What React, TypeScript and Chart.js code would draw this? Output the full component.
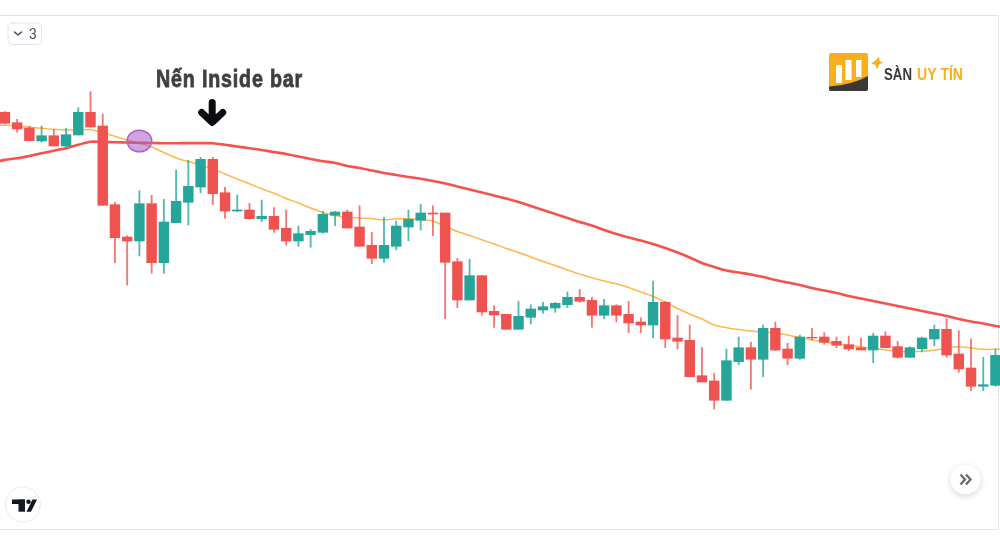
import React, { useEffect, useRef } from "react";
import { Chart, registerables } from "chart.js";

Chart.register(...registerables);

// Price units of the hidden axis. Candle 0 is the first one on the left.
const opens = [432.7,422.3,417,404,409.3,399,410,432.7,419,340.3,308,304,341.3,282.3,322.3,342.7,358,385.7,352.3,334,335,326.3,328.7,316.7,304,310.3,312.7,329.7,333,318,299.7,286.7,298.7,318,324.7,332,332,283.3,245,269.3,233.7,230.7,215.7,227.7,235,237,240.3,247.7,244.7,229.7,239.3,230.7,223,220,242.7,207,204.7,169.3,164,144.7,183.3,197.3,185.7,216.7,196,186.7,207.7,208,203.7,200.3,197.3,195,209,198.3,187.7,196.3,206,215.7,191,177,158.7,159.7];
const closes = [421.7,416,404.3,409.3,399,410.3,432.7,418,339.7,307.3,304,341.3,282.3,323,343.7,358.7,385.7,351.3,334,335,326.3,328.7,315.7,304,311.3,313.7,330.7,333,317,298.7,286.7,299.7,319,325.7,332,331,282.7,245,269.3,233,230,215.7,228.7,236,238.3,241.7,247.7,243.7,229.7,239.3,229.7,222,220,242.7,206,203.7,168.3,163,144.7,184.3,197.3,185.7,216.7,195,186.7,208,207,202.7,199.7,196,195,209,197.3,187.7,197.3,207,215.7,190,176,158.7,160.3,189.7];
const highs = [433.5,425.7,419,419,415.7,416.7,437.3,453.3,431,342.7,309.3,354.3,349.7,345.7,375,384.7,387.7,387.7,357.7,350,341.7,345,337.3,335,319,315.7,333.7,333.7,335,339.3,312.7,327.7,324,335,340.7,339.3,332,286.7,285.7,269.3,239.3,230.7,243.7,240.3,242.7,242.7,253,255.7,247.7,245.7,240.3,243.7,227.3,264,243.7,229.7,220,197.3,171.7,196,208,202.7,220,223,201.7,210,216.7,212.3,208,209,207,211.7,213.3,203.7,198.3,208,220,226.3,214.3,206,187.7,196];
const lows = [421,412.7,404,403,399,398.3,410,418,339.7,282.3,260,289,271.7,271.7,322.3,320,352.3,340.3,326.7,333.3,325.7,323.3,312.7,299.7,298.7,297.7,311.7,319.3,317,298.7,281.3,282.7,295,304.3,315,309.3,226.3,237.3,245,229.7,217.7,215.7,215.7,221,231.7,232.7,237.3,242.7,217.7,226.3,223,212.3,212.3,207,197.3,196,168.3,163,136,144.7,180.3,155.7,168.3,194.3,180.3,185.7,205,200.7,197.3,194.3,195,182.3,197.3,186.7,187.7,193,199.3,187.7,172.7,154.3,154.3,158.7];

// Moving averages, starting one candle before the first and ending one after the last.
const slowAverage = [382.5,385.1,386.7,389.1,391.7,394.3,396.7,400.2,403.3,403,402.8,402.5,402.3,402,401.8,401.8,401.9,401.9,401.7,400.2,398.5,396.7,395,393,391,388.5,386,383.8,382,379,377,374.5,372,370,368,366.2,364,361.5,358.5,355.5,352.5,349.5,346.5,343,339,335,331,327,323,319.5,315,311,307.5,304.5,301,297,292.5,287.5,282,278,274.5,272.5,270.5,268,265,262.5,260,257,254.5,252,249,246.5,244,241.5,239,236.5,234,231.5,229,226,223.5,221.5,219,217];
const fastAverage = [420,419.7,419,417.7,416.7,415.7,415,415,415.5,412.5,408.7,405,401.5,398,392.5,387,383.5,380,376,371,366,361.3,356.2,351.7,346.5,342,337,332.5,329.5,327.7,327,326.4,325,326.2,326.3,325.5,324,318.5,313.5,309.5,305.3,301,296.5,292.5,288,283.5,279.5,275,271,267.2,264,261.2,257.5,253,248.7,242.7,236.5,231,226,220,217.3,215.5,214,213,212,210,207.5,205,203,201.2,199.7,198,196.7,195,194,193.3,193.8,194.8,196.7,198.3,197,195.7,195.7,196];

const annotationTitle = "Nến Inside bar";
const legendCount = "3";
const brandDark = "SÀN";
const brandLight = "UY TÍN";
const markedCandle = 11;
const markedPrice = 404;
const arrowCandle = 17;

const UP = "#26a69a";
const DOWN = "#ef5350";

const overlay = {
  id: "overlay",
  beforeDraw(chart: any) {
    const { ctx } = chart;
    ctx.save();
    ctx.fillStyle = "#ffffff";
    ctx.fillRect(0, 0, 1000, 545);
    ctx.strokeStyle = "#e2e2e2";
    ctx.lineWidth = 1;
    ctx.beginPath();
    ctx.moveTo(0, 15.5);
    ctx.lineTo(998.5, 15.5);
    ctx.lineTo(998.5, 529.5);
    ctx.lineTo(0, 529.5);
    ctx.stroke();
    ctx.restore();
  },
  afterDraw(chart: any) {
    const { ctx, scales } = chart;
    const X = scales.x;
    const Y = scales.y;
    ctx.save();

    // marked candle ellipse
    ctx.beginPath();
    ctx.ellipse(X.getPixelForValue(markedCandle), Y.getPixelForValue(markedPrice), 12.3, 10.8, 0, 0, Math.PI * 2);
    ctx.fillStyle = "rgba(168,92,196,0.55)";
    ctx.fill();
    ctx.strokeStyle = "#b062c6";
    ctx.lineWidth = 1.5;
    ctx.stroke();

    // arrow
    const ax = X.getPixelForValue(arrowCandle) - 0.6;
    ctx.strokeStyle = "#0b0b10";
    ctx.lineWidth = 7;
    ctx.lineCap = "round";
    ctx.lineJoin = "round";
    ctx.beginPath();
    ctx.moveTo(ax, 102.5);
    ctx.lineTo(ax, 122);
    ctx.moveTo(ax - 10.5, 112.5);
    ctx.lineTo(ax, 122.5);
    ctx.lineTo(ax + 10.5, 112.5);
    ctx.stroke();

    // annotation title
    ctx.fillStyle = "#413e3e";
    ctx.strokeStyle = "#413e3e";
    ctx.lineWidth = 0.8;
    ctx.lineJoin = "round";
    ctx.font = 'bold 24px "Liberation Sans Narrow", "Liberation Sans"';
    ctx.textBaseline = "alphabetic";
    ctx.textAlign = "left";
    (ctx as any).letterSpacing = "1px";
    ctx.fillText(annotationTitle, 156, 86.5, 147);
    ctx.strokeText(annotationTitle, 156, 86.5, 147);
    (ctx as any).letterSpacing = "0px";

    // legend toggle
    ctx.fillStyle = "#ffffff";
    ctx.strokeStyle = "#e0e3eb";
    ctx.lineWidth = 1;
    ctx.beginPath();
    ctx.roundRect(8, 23, 33.5, 21.5, 4);
    ctx.fill();
    ctx.stroke();
    ctx.strokeStyle = "#4a4e59";
    ctx.lineWidth = 1.6;
    ctx.lineCap = "round";
    ctx.beginPath();
    ctx.moveTo(14.5, 32);
    ctx.lineTo(18, 35);
    ctx.lineTo(21.5, 32);
    ctx.stroke();
    ctx.fillStyle = "#4a4e59";
    ctx.font = '14px "Roboto"';
    ctx.fillText(legendCount, 29, 39);

    // brand logo
    ctx.fillStyle = "#f9ae1c";
    ctx.beginPath();
    ctx.roundRect(829, 53, 39, 38, 2);
    ctx.fill();
    ctx.fillStyle = "#ffffff";
    ctx.fillRect(836, 65, 6, 18);
    ctx.fillRect(845.5, 60, 6, 20);
    ctx.fillRect(856, 60, 5.5, 17);
    ctx.fillStyle = "#3b3838";
    ctx.beginPath();
    ctx.moveTo(829, 86.5);
    ctx.quadraticCurveTo(852, 85, 868, 76);
    ctx.lineTo(868, 89);
    ctx.quadraticCurveTo(868, 91, 866, 91);
    ctx.lineTo(831, 91);
    ctx.quadraticCurveTo(829, 91, 829, 89);
    ctx.closePath();
    ctx.fill();
    ctx.fillStyle = "#f9ae1c";
    ctx.beginPath();
    ctx.moveTo(879, 56.5);
    ctx.lineTo(879.5, 61);
    ctx.lineTo(883, 62.5);
    ctx.lineTo(879, 64.5);
    ctx.lineTo(877, 69.5);
    ctx.lineTo(875.5, 65);
    ctx.lineTo(871, 63.5);
    ctx.lineTo(875.5, 60.5);
    ctx.closePath();
    ctx.fill();
    ctx.font = 'bold 16px "Liberation Sans"';
    ctx.fillStyle = "#3b3838";
    ctx.fillText(brandDark, 884, 79.7, 28);
    ctx.fillStyle = "#f9ae1c";
    ctx.fillText(brandLight, 917, 79.7, 46);

    // TradingView mark
    ctx.fillStyle = "#ffffff";
    ctx.strokeStyle = "#ececec";
    ctx.lineWidth = 1;
    ctx.beginPath();
    ctx.arc(23, 504.5, 17.5, 0, Math.PI * 2);
    ctx.fill();
    ctx.stroke();
    ctx.fillStyle = "#131722";
    ctx.fillRect(12, 499.5, 13, 4.5);
    ctx.fillRect(18.5, 499.5, 6.5, 12.2);
    ctx.beginPath();
    ctx.arc(28.5, 501.8, 2.3, 0, Math.PI * 2);
    ctx.fill();
    ctx.beginPath();
    ctx.moveTo(32.5, 499.5);
    ctx.lineTo(37, 499.5);
    ctx.lineTo(31, 511.7);
    ctx.lineTo(26.5, 511.7);
    ctx.closePath();
    ctx.fill();

    // scroll button
    ctx.save();
    ctx.shadowColor = "rgba(0,0,0,0.16)";
    ctx.shadowBlur = 6;
    ctx.shadowOffsetY = 2;
    ctx.fillStyle = "#ffffff";
    ctx.beginPath();
    ctx.arc(965.5, 479.5, 15, 0, Math.PI * 2);
    ctx.fill();
    ctx.restore();
    ctx.strokeStyle = "#6a6d78";
    ctx.lineWidth = 2.4;
    ctx.lineCap = "butt";
    ctx.lineJoin = "miter";
    ctx.beginPath();
    ctx.moveTo(960.5, 474.5);
    ctx.lineTo(965, 479.5);
    ctx.lineTo(960.5, 484.5);
    ctx.moveTo(966, 474.5);
    ctx.lineTo(970.5, 479.5);
    ctx.lineTo(966, 484.5);
    ctx.stroke();

    ctx.restore();
  },
};

export default function App() {
  const ref = useRef<HTMLCanvasElement | null>(null);

  useEffect(() => {
    if (!ref.current) return;
    const colors = opens.map((o, i) => (closes[i] >= o ? UP : DOWN));
    const chart = new Chart(ref.current, {
      type: "bar",
      data: {
        datasets: [
          {
            type: "bar",
            label: "Body",
            data: opens.map((o, i) => ({ x: i, y: [o, closes[i]] })),
            backgroundColor: colors,
            borderWidth: 0,
            barThickness: 9.8,
            grouped: false,
            order: 1,
          },
          {
            type: "bar",
            label: "Wick",
            data: highs.map((h, i) => ({ x: i, y: [lows[i], h] })),
            backgroundColor: colors.map((c) => c + "c8"),
            borderWidth: 0,
            barThickness: 1.2,
            grouped: false,
            order: 2,
          },
          {
            type: "line",
            label: "MA slow",
            data: slowAverage.map((v, i) => ({ x: i - 1, y: v })),
            borderColor: "#f6524d",
            borderWidth: 2.6,
            pointRadius: 0,
            tension: 0.3,
            order: 3,
          },
          {
            type: "line",
            label: "MA fast",
            data: fastAverage.map((v, i) => ({ x: i - 1, y: v })),
            borderColor: "#ffb74d",
            borderWidth: 1.5,
            pointRadius: 0,
            tension: 0.3,
            order: 4,
          },
        ],
      } as any,
      options: {
        animation: false,
        responsive: false,
        events: [],
        layout: { padding: 0 },
        plugins: { legend: { display: false }, tooltip: { enabled: false } },
        scales: {
          x: { type: "linear", display: false, offset: false, min: -0.4, max: 81.37, grid: { display: false } },
          y: { type: "linear", display: false, min: 0, max: 545, grid: { display: false } },
        },
      } as any,
      plugins: [overlay],
    });
    return () => chart.destroy();
  }, []);

  return (
    <div style={{ position: "absolute", left: 0, top: 0, width: 1000, height: 545, background: "#fff" }}>
      <canvas ref={ref} width={1000} height={545} style={{ display: "block" }} />
    </div>
  );
}
